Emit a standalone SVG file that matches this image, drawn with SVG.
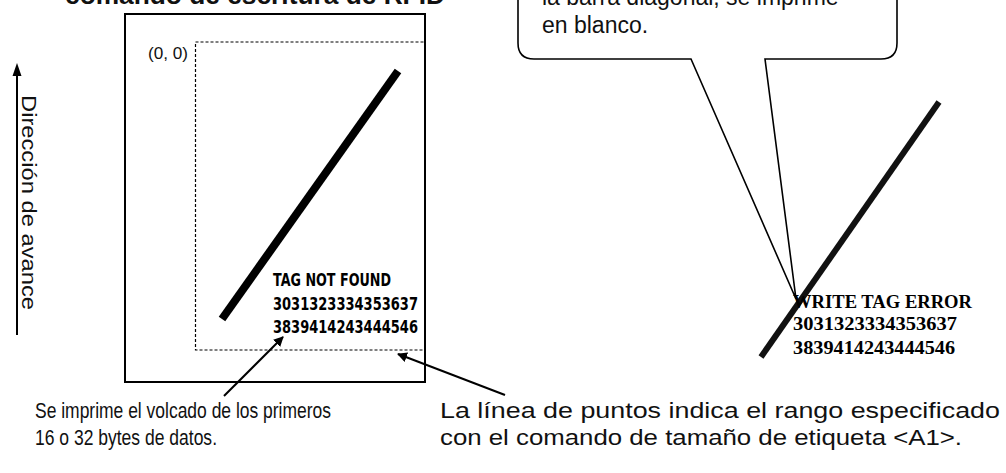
<svg xmlns="http://www.w3.org/2000/svg" width="1006" height="473" viewBox="0 0 1006 473">
<style>
.sans{font-family:"Liberation Sans",Arial,sans-serif;fill:#111}
.gothic{font-family:"DejaVu Sans","Liberation Sans",sans-serif;font-weight:bold;fill:#000}
.serifb{font-family:"Liberation Serif","Times New Roman",serif;font-weight:bold;fill:#000}
.dot{stroke:#000;stroke-width:1.2;fill:none;stroke-dasharray:3 2}
</style>
<defs>
<marker id="ah" viewBox="0 0 10 10" refX="9" refY="5" markerWidth="10" markerHeight="10" markerUnits="userSpaceOnUse" orient="auto">
<path d="M0,0 L10,5 L0,10 Z" fill="#000"/>
</marker>
</defs>
<rect width="1006" height="473" fill="#fff"/>

<g id="title">
<text class="sans" x="65" y="4" font-size="25" font-weight="bold" textLength="380" lengthAdjust="spacingAndGlyphs">comando de escritura de RFID</text>
</g>

<g id="feed-direction">
<line x1="17" y1="74" x2="17" y2="335" stroke="#000" stroke-width="2"/>
<polygon points="17,63 12.5,76 21.5,76" fill="#000"/>
<text class="sans" transform="translate(22,95) rotate(90)" font-size="21" textLength="215" lengthAdjust="spacingAndGlyphs">Dirección de avance</text>
</g>

<g id="label-left">
<rect x="125" y="14" width="300" height="368" fill="none" stroke="#000" stroke-width="2"/>
<rect x="195.5" y="42" width="229.5" height="308" class="dot"/>
<text class="sans" x="148" y="59" font-size="17" textLength="40" lengthAdjust="spacingAndGlyphs">(0, 0)</text>
<line x1="398" y1="71" x2="222" y2="319" stroke="#000" stroke-width="8"/>
<text class="gothic" x="273" y="286" font-size="17" textLength="118" lengthAdjust="spacingAndGlyphs">TAG NOT FOUND</text>
<text class="gothic" x="273" y="310" font-size="17" textLength="145" lengthAdjust="spacingAndGlyphs">3031323334353637</text>
<text class="gothic" x="273" y="333" font-size="17" textLength="145" lengthAdjust="spacingAndGlyphs">3839414243444546</text>
</g>

<g id="label-right">
<line x1="939" y1="102" x2="761" y2="357" stroke="#111" stroke-width="6"/>
<text class="serifb" x="793" y="308" font-size="18" textLength="179" lengthAdjust="spacingAndGlyphs">WRITE TAG ERROR</text>
<text class="serifb" x="793" y="330" font-size="18" textLength="164" lengthAdjust="spacingAndGlyphs">3031323334353637</text>
<text class="serifb" x="793" y="354" font-size="18" textLength="162" lengthAdjust="spacingAndGlyphs">3839414243444546</text>
</g>

<g id="callout">
<path d="M518,-20 L518,43 Q518,59 534,59 L691,59 L796,299 L765,59 L881,59 Q897,59 897,43 L897,-20 Z" fill="#fff" stroke="#000" stroke-width="1.6"/>
<text class="sans" x="542" y="5" font-size="23">la barra diagonal, se imprime</text>
<text class="sans" x="542" y="33" font-size="23">en blanco.</text>
</g>

<g id="note-left">
<text class="sans" x="35" y="418" font-size="22" textLength="296" lengthAdjust="spacingAndGlyphs">Se imprime el volcado de los primeros</text>
<text class="sans" x="35" y="445" font-size="22" textLength="182" lengthAdjust="spacingAndGlyphs">16 o 32 bytes de datos.</text>
</g>

<g id="note-right">
<text class="sans" x="440" y="418" font-size="22" textLength="560" lengthAdjust="spacingAndGlyphs">La línea de puntos indica el rango especificado</text>
<text class="sans" x="440" y="445" font-size="22" textLength="522" lengthAdjust="spacingAndGlyphs">con el comando de tamaño de etiqueta &lt;A1&gt;.</text>
</g>

<g id="connectors">
<line x1="224" y1="396" x2="283" y2="337" stroke="#000" stroke-width="2" marker-end="url(#ah)"/>
<line x1="505" y1="395" x2="398" y2="354" stroke="#000" stroke-width="2" marker-end="url(#ah)"/>
</g>
</svg>
